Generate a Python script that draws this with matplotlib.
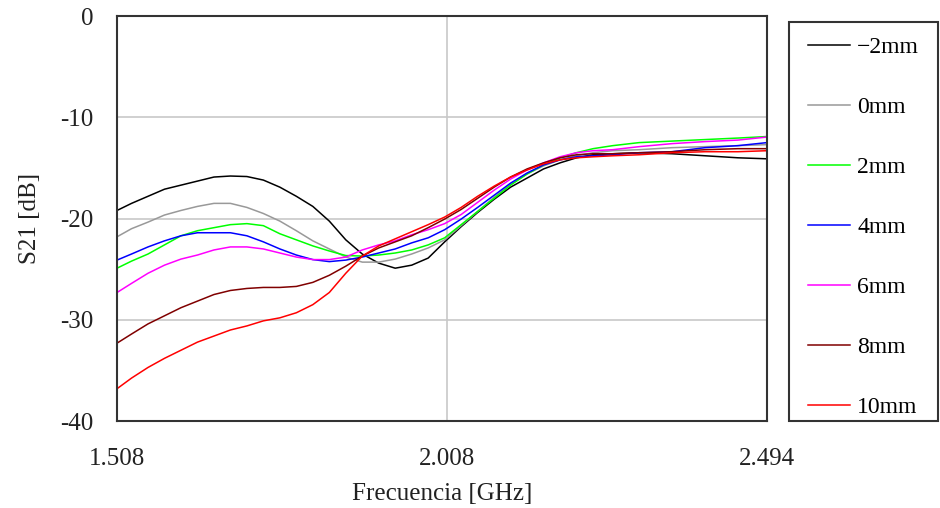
import numpy as np
import matplotlib
matplotlib.use('Agg')
import matplotlib.pyplot as plt
from matplotlib.patches import Rectangle

plt.rcParams['font.family'] = ['Liberation Serif', 'DejaVu Serif']

# frecuencia en GHz
f = np.array([1.508, 1.53, 1.555, 1.58, 1.605, 1.63, 1.655, 1.68, 1.705, 1.73,
              1.755, 1.78, 1.805, 1.83, 1.855, 1.88, 1.905, 1.93, 1.955, 1.98,
              2.005, 2.03, 2.055, 2.08, 2.105, 2.13, 2.155, 2.18, 2.205, 2.23,
              2.26, 2.30, 2.35, 2.40, 2.45, 2.494])

# S21 [dB] para cada desplazamiento
s_m2 = np.array([-19.2, -18.5, -17.8, -17.1, -16.7, -16.3, -15.9, -15.8, -15.85, -16.2,
                 -16.9, -17.8, -18.8, -20.25, -22.1, -23.5, -24.4, -24.9, -24.6, -23.9,
                 -22.3, -20.8, -19.4, -18.1, -16.9, -16.0, -15.1, -14.5, -14.0, -13.7,
                 -13.6, -13.5, -13.6, -13.8, -14.0, -14.1])
s_0 = np.array([-21.8, -21.0, -20.35, -19.65, -19.2, -18.8, -18.5, -18.5, -18.9, -19.5,
                -20.25, -21.2, -22.2, -23.0, -23.8, -24.3, -24.3, -24.0, -23.5, -22.9,
                -22.1, -20.7, -19.3, -17.9, -16.6, -15.6, -14.8, -14.2, -13.8, -13.5,
                -13.3, -13.2, -13.0, -12.9, -12.8, -12.7])
s_2 = np.array([-24.9, -24.2, -23.5, -22.6, -21.7, -21.2, -20.9, -20.6, -20.5, -20.7,
                -21.5, -22.1, -22.7, -23.2, -23.65, -23.7, -23.6, -23.4, -23.1, -22.6,
                -21.9, -20.6, -19.3, -18.0, -16.7, -15.6, -14.7, -14.0, -13.5, -13.1,
                -12.8, -12.5, -12.35, -12.2, -12.05, -11.9])
s_4 = np.array([-24.1, -23.5, -22.8, -22.2, -21.7, -21.4, -21.4, -21.4, -21.7, -22.3,
                -23.0, -23.6, -24.05, -24.25, -24.1, -23.8, -23.4, -23.0, -22.4, -21.9,
                -21.1, -20.05, -18.9, -17.7, -16.5, -15.5, -14.7, -14.2, -13.9, -13.8,
                -13.7, -13.5, -13.4, -13.0, -12.8, -12.5])
s_6 = np.array([-27.3, -26.4, -25.4, -24.6, -24.0, -23.6, -23.1, -22.8, -22.8, -23.0,
                -23.4, -23.8, -24.05, -24.05, -23.8, -23.1, -22.6, -22.2, -21.6, -21.1,
                -20.5, -19.6, -18.4, -17.2, -16.1, -15.2, -14.5, -13.9, -13.5, -13.3,
                -13.2, -12.9, -12.6, -12.4, -12.25, -11.95])
s_8 = np.array([-32.3, -31.4, -30.4, -29.6, -28.8, -28.15, -27.5, -27.1, -26.9, -26.8,
                -26.8, -26.7, -26.3, -25.6, -24.7, -23.7, -22.9, -22.3, -21.7, -20.9,
                -20.05, -19.1, -18.0, -16.9, -15.9, -15.1, -14.5, -14.0, -13.7, -13.6,
                -13.6, -13.5, -13.4, -13.2, -13.1, -13.1])
s_10 = np.array([-36.8, -35.75, -34.7, -33.8, -33.0, -32.2, -31.6, -31.0, -30.6, -30.1,
                 -29.8, -29.3, -28.5, -27.3, -25.4, -23.7, -22.7, -22.0, -21.3, -20.6,
                 -19.85, -18.9, -17.8, -16.8, -15.9, -15.2, -14.6, -14.2, -14.0, -13.9,
                 -13.8, -13.7, -13.5, -13.4, -13.4, -13.3])

series = [s_m2, s_0, s_2, s_4, s_6, s_8, s_10]
labels = ["\u22122mm", "0mm", "2mm", "4mm", "6mm", "8mm", "10mm"]
colors = ["#000000", "#999999", "#00ff00", "#0000ff", "#ff00ff", "#800000", "#ff0000"]

fig = plt.figure(figsize=(9.4, 5.08), dpi=100)
ax = fig.add_axes([0.1245, 0.171, 0.6915, 0.7975])

for s, lab, c in zip(series, labels, colors):
    ax.plot(f, s, color=c, lw=1.1, label=lab)

ax.set_xlim(1.508, 2.494)
ax.set_ylim(-40, 0)
ax.set_xticks([1.508, 2.008, 2.494])
ax.set_xticklabels(["1.508", "2.008", "2.494"])
ax.set_yticks([0, -10, -20, -30, -40])
ax.set_yticklabels(["0", "-10", "-20", "-30", "-40"])
ax.tick_params(length=0, labelsize=18, colors="#222222")
ax.tick_params(axis="x", pad=19.5)
ax.tick_params(axis="y", pad=17)
ax.grid(True, color="#c8c8c8", lw=1.2)
for sp in ax.spines.values():
    sp.set_color("#333333")
    sp.set_linewidth(1.5)

ax.set_xlabel("Frecuencia [GHz]", fontsize=18, color="#222222", labelpad=9)
ax.set_ylabel("S21 [dB]", fontsize=18, color="#222222", labelpad=14)

# caja de la leyenda dibujada aparte
fig.patches.append(Rectangle((789/940, 87/508), 149/940, 399/508, transform=fig.transFigure,
                             fill=False, edgecolor="#333333", lw=1.5))
leg = fig.legend(loc="upper left", bbox_to_anchor=(793/940, 87/508, 145/940, 399/508),
                 mode="expand", borderaxespad=0, fontsize=17, labelspacing=1.63,
                 handlelength=1.8, handletextpad=0.3, borderpad=0.62, frameon=False)

plt.savefig("out.png", dpi=100)
